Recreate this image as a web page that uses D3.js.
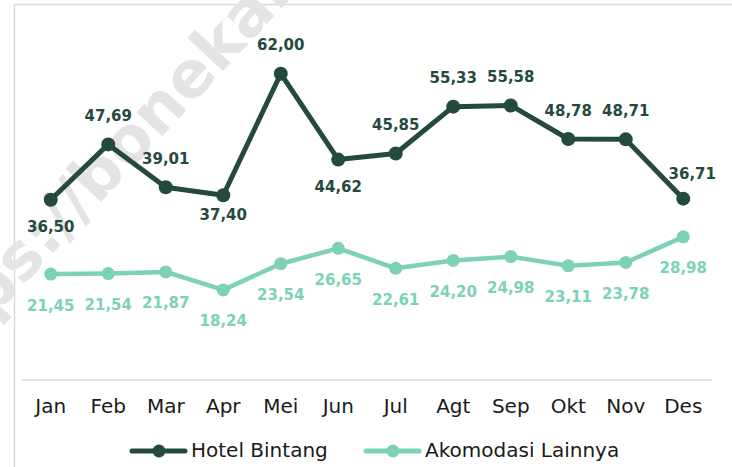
<!DOCTYPE html>
<html>
<head>
<meta charset="utf-8">
<script src="https://cdn.jsdelivr.net/npm/d3@7"></script>
<style>
  body { margin: 0; background: #fff; }
  svg { display: block; font-family: "DejaVu Sans", sans-serif; }
</style>
</head>
<body>
<script>
// Data
const months = ["Jan", "Feb", "Mar", "Apr", "Mei", "Jun", "Jul", "Agt", "Sep", "Okt", "Nov", "Des"];
const hotelBintang = [36.50, 47.69, 39.01, 37.40, 62.00, 44.62, 45.85, 55.33, 55.58, 48.78, 48.71, 36.71];
const akomodasiLainnya = [21.45, 21.54, 21.87, 18.24, 23.54, 26.65, 22.61, 24.20, 24.98, 23.11, 23.78, 28.98];

// label placement for the dark series (a = above, b = below)
const hotelLabelSide = ["b", "a", "a", "b", "a", "b", "a", "a", "a", "a", "a", "a"];

const W = 732, H = 467;
const darkColor = "#244a3e";
const lightColor = "#7dd1b6";

const svg = d3.select("body").append("svg")
    .attr("width", W)
    .attr("height", H);

// outer frame (cropped on right and bottom)
svg.append("rect")
    .attr("x", 14.5).attr("y", 4.5)
    .attr("width", 740).attr("height", 480)
    .attr("fill", "#fff")
    .attr("stroke", "#d9d9d9")
    .attr("stroke-width", 1.5);

// faint watermark
svg.append("text")
    .attr("transform", "translate(-82,398) rotate(-47)")
    .attr("fill", "#e4e4e4")
    .style("font-size", "64px")
    .style("font-weight", "bold")
    .text("https://bonekab.bps.go.id");

const x = d3.scaleBand()
    .domain(months)
    .range([22, 712]);

const y = d3.scaleLinear()
    .domain([0, 70])
    .range([380, 34.2]);

const cx = d => x(d) + x.bandwidth() / 2;

// axis line
svg.append("line")
    .attr("x1", 22).attr("x2", 712)
    .attr("y1", 380).attr("y2", 380)
    .attr("stroke", "#d9d9d9")
    .attr("stroke-width", 1.5);

// category labels
const xAxis = svg.append("g")
    .attr("transform", "translate(0,380)")
    .call(d3.axisBottom(x).tickSize(0).tickPadding(19));
xAxis.select(".domain").remove();
xAxis.selectAll("text")
    .attr("fill", "#1a1a1a")
    .style("font-size", "20px")
    .style("font-family", '"DejaVu Sans", sans-serif');

const fmt = v => d3.format(".2f")(v).replace(".", ",");

function drawSeries(values, color, width, r) {
    const line = d3.line()
        .x((d, i) => cx(months[i]))
        .y(d => y(d));

    svg.append("path")
        .datum(values)
        .attr("fill", "none")
        .attr("stroke", color)
        .attr("stroke-width", width)
        .attr("stroke-linejoin", "round")
        .attr("d", line);

    svg.append("g").selectAll("circle")
        .data(values)
        .join("circle")
        .attr("cx", (d, i) => cx(months[i]))
        .attr("cy", d => y(d))
        .attr("r", r)
        .attr("fill", color);
}

drawSeries(akomodasiLainnya, lightColor, 4.5, 6.5);
drawSeries(hotelBintang, darkColor, 5, 7);

// labels: light series, all below
svg.append("g").selectAll("text")
    .data(akomodasiLainnya)
    .join("text")
    .attr("x", (d, i) => cx(months[i]))
    .attr("y", d => y(d) + 32)
    .attr("text-anchor", "middle")
    .attr("dominant-baseline", "middle")
    .attr("fill", lightColor)
    .style("font-size", "15px")
    .style("font-weight", "bold")
    .text(fmt);

// labels: dark series
svg.append("g").selectAll("text")
    .data(hotelBintang)
    .join("text")
    .attr("x", (d, i) => cx(months[i]) + (i === 11 ? 9 : 0))
    .attr("y", (d, i) => {
        if (hotelLabelSide[i] === "b") return y(d) + (i === 3 ? 20 : 28);
        return y(d) - (i === 11 ? 24 : 28);
    })
    .attr("text-anchor", "middle")
    .attr("dominant-baseline", "middle")
    .attr("fill", darkColor)
    .style("font-size", "15px")
    .style("font-weight", "bold")
    .text(fmt);

// legend
const legendItems = [
    {name: "Hotel Bintang", color: darkColor, x: 132},
    {name: "Akomodasi Lainnya", color: lightColor, x: 366}
];
const legend = svg.append("g").attr("transform", "translate(0,451)");
legendItems.forEach(function (item) {
    const g = legend.append("g").attr("transform", "translate(" + item.x + ",0)");
    g.append("line")
        .attr("x1", 0).attr("x2", 53)
        .attr("stroke", item.color)
        .attr("stroke-width", 5)
        .attr("stroke-linecap", "round");
    g.append("circle")
        .attr("cx", 27).attr("r", 6.5)
        .attr("fill", item.color);
    g.append("text")
        .attr("x", 59)
        .attr("dominant-baseline", "middle")
        .attr("fill", "#1a1a1a")
        .style("font-size", "20px")
        .text(item.name);
});
</script>
</body>
</html>
